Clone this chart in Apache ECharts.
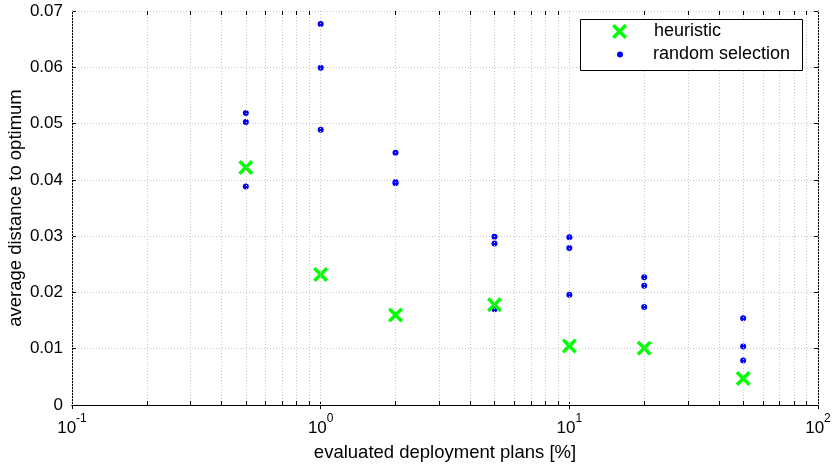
<!DOCTYPE html>
<html>
<head>
<meta charset="utf-8">
<script src="https://cdn.jsdelivr.net/npm/echarts@6/dist/echarts.min.js"></script>
<style>
html,body{margin:0;padding:0;background:#fff;}
#main{width:837px;height:465px;}
</style>
</head>
<body>
<div id="main"></div>
<script>
// data
var planPct = [0.5, 1, 2, 5, 10, 20, 50];
var heuristicVals = [0.0422, 0.0232, 0.0160, 0.0178, 0.0105, 0.0101, 0.0047];
var randomPct = [0.5, 0.5, 0.5, 1, 1, 1, 2, 2, 2, 5, 5, 5, 10, 10, 10, 20, 20, 20, 50, 50, 50];
var randomVals = [0.0519, 0.0503, 0.0388, 0.0677, 0.0599, 0.0489, 0.0448, 0.0396, 0.0394,
                  0.0299, 0.0287, 0.0170, 0.0298, 0.0279, 0.0196, 0.0227, 0.0212, 0.0174,
                  0.0154, 0.0104, 0.0079];
var yTicks = [0, 0.01, 0.02, 0.03, 0.04, 0.05, 0.06, 0.07];
var minorX = [];
[0.1, 1, 10].forEach(function (d) {
	for (var k = 2; k <= 9; k++) minorX.push(+(d * k).toPrecision(3));
});

var heurData = planPct.map(function (x, i) { return [x, heuristicVals[i]]; });
var randData = randomPct.map(function (x, i) { return [x, randomVals[i]]; });

var Y_MAX = 0.07, TICK = 0.0007;
var gridLines = [];
var tickLines = [];
minorX.forEach(function (x) {
	gridLines.push({ xAxis: x });
	tickLines.push([{ coord: [x, 0] }, { coord: [x, TICK] }]);
	tickLines.push([{ coord: [x, Y_MAX] }, { coord: [x, Y_MAX - TICK] }]);
});
[0.1, 1, 10, 100].forEach(function (x) { gridLines.push({ xAxis: x }); });

var crossPath = 'path://M0,2.3 L2.3,0 L7,4.7 L11.7,0 L14,2.3 L9.3,7 L14,11.7 L11.7,14 L7,9.3 L2.3,14 L0,11.7 L4.7,7 Z';
var FONT = 'Liberation Sans';

var supLabel = {
	fontFamily: FONT,
	color: '#000',
	formatter: function (v) {
		var e = Math.round(Math.log10(v));
		return '{b|10}{s|' + e + '}';
	},
	rich: {
		b: { fontSize: 17, color: '#000', fontFamily: FONT, lineHeight: 24, verticalAlign: 'bottom' },
		s: { fontSize: 12, color: '#000', fontFamily: FONT, lineHeight: 24, verticalAlign: 'top', padding: [0, 0, 11, 0] }
	}
};

var legendText = { fontSize: 18, fontFamily: FONT, color: '#000' };

var myChart = echarts.init(document.getElementById('main'));
var option = {
	animation: false,
	backgroundColor: '#fff',
	grid: { left: 72, right: 19, top: 11, bottom: 60, containLabel: false, outerBoundsMode: 'none' },
	graphic: [{
		type: 'rect',
		left: 580, top: 19,
		shape: { width: 222, height: 51 },
		style: { fill: '#fff', stroke: '#000', lineWidth: 1 },
		z: 50
	}],
	legend: [
		{
			left: 612, top: 22.5, padding: 0,
			itemWidth: 15, itemHeight: 15,
			textStyle: Object.assign({ padding: [0, 0, 0, 22] }, legendText),
			data: ['heuristic'],
			z: 60
		},
		{
			left: 617, top: 45.5, padding: 0,
			itemWidth: 6, itemHeight: 6,
			textStyle: Object.assign({ padding: [0, 0, 0, 25] }, legendText),
			data: ['random selection'],
			z: 60
		}
	],
	xAxis: [
		{
			type: 'log', logBase: 10, min: 0.1, max: 100,
			name: 'evaluated deployment plans [%]',
			nameLocation: 'middle', nameGap: 38, nameMoveOverlap: false,
			nameTextStyle: { fontSize: 18.5, fontFamily: FONT, color: '#000' },
			axisLine: { lineStyle: { color: '#000', width: 1 } },
			axisTick: { inside: true, length: 4, lineStyle: { color: '#000' } },
			axisLabel: Object.assign({ margin: 8 }, supLabel),
			splitLine: { show: false }
		},
		{
			type: 'log', logBase: 10, min: 0.1, max: 100, position: 'top',
			axisLine: { lineStyle: { color: '#000', width: 1 } },
			axisTick: { inside: true, length: 4, lineStyle: { color: '#000' } },
			axisLabel: { show: false },
			splitLine: { show: false }
		}
	],
	yAxis: [
		{
			type: 'value', min: 0, max: 0.07, interval: 0.01,
			name: 'average distance to optimum',
			nameLocation: 'middle', nameGap: 47, nameRotate: 90, nameMoveOverlap: false,
			nameTextStyle: { fontSize: 18.5, fontFamily: FONT, color: '#000' },
			axisLine: { show: true, lineStyle: { color: '#000', width: 1 } },
			axisTick: { show: true, inside: true, length: 4, lineStyle: { color: '#000' } },
			axisLabel: {
				fontSize: 17, fontFamily: FONT, color: '#000', margin: 9,
				formatter: function (v) { return yTicks.indexOf(+v.toFixed(2)) >= 0 ? (v === 0 ? '0' : v.toFixed(2)) : ''; }
			},
			splitLine: { show: true, lineStyle: { color: '#c8c8c8', type: [1, 2], width: 1 } }
		},
		{
			type: 'value', min: 0, max: 0.07, interval: 0.01, position: 'right',
			axisLine: { show: true, lineStyle: { color: '#000', width: 1 } },
			axisTick: { show: true, inside: true, length: 4, lineStyle: { color: '#000' } },
			axisLabel: { show: false },
			splitLine: { show: false }
		}
	],
	series: [
		{
			name: 'grid',
			type: 'line',
			data: [],
			silent: true,
			markLine: {
				silent: true,
				symbol: 'none',
				label: { show: false },
				lineStyle: { color: '#c8c8c8', type: [1, 2], width: 1 },
				data: gridLines
			}
		},
		{
			name: 'ticks',
			type: 'line',
			data: [],
			silent: true,
			markLine: {
				silent: true,
				symbol: 'none',
				label: { show: false },
				lineStyle: { color: '#000', type: 'solid', width: 1 },
				data: tickLines
			}
		},
		{
			name: 'random selection',
			type: 'scatter',
			symbol: 'circle',
			symbolSize: 6,
			itemStyle: { color: '#0000ff', opacity: 1 },
			data: randData,
			z: 3
		},
		{
			name: 'heuristic',
			type: 'scatter',
			symbol: crossPath,
			symbolSize: 15,
			itemStyle: { color: '#00ff00', opacity: 1 },
			data: heurData,
			z: 4
		}
	]
};
myChart.setOption(option);
</script>
</body>
</html>
